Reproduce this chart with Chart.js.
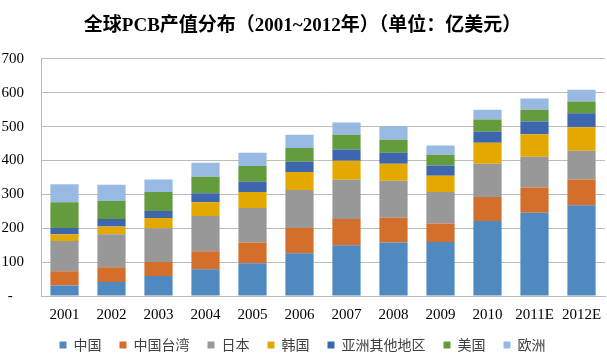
<!DOCTYPE html>
<html>
<head>
<meta charset="utf-8">
<script src="https://cdn.jsdelivr.net/npm/chart.js@4/dist/chart.umd.min.js"></script>
<style>
  body { margin: 0; background: #fff; }
</style>
</head>
<body>
<canvas id="pcb" width="607" height="360"></canvas>
<script>
var years = ['2001', '2002', '2003', '2004', '2005', '2006', '2007', '2008', '2009', '2010', '2011E', '2012E'];
var china     = [31, 41, 59, 79, 97, 126, 150, 158, 159, 221, 246, 268];
var taiwan    = [42, 44, 41, 53, 61, 75, 77, 73, 55, 71, 74, 76];
var japan     = [89, 97, 100, 104, 102, 112, 116, 109, 93, 98, 91, 85];
var korea     = [20, 23, 30, 41, 47, 53, 56, 50, 48, 62, 66, 69];
var otherAsia = [19, 22, 21, 26, 30, 30, 33, 33, 30, 33, 38, 41];
var usa       = [76, 53, 56, 49, 47, 41, 44, 38, 32, 36, 35, 35];
var europe    = [53, 48, 37, 41, 39, 39, 36, 40, 27, 29, 33, 35];
var yTicks = [0, 100, 200, 300, 400, 500, 600, 700];

var serif = "'Liberation Serif', 'Times New Roman', serif";

function ds(label, data, color) {
    return {
        label: label,
        data: data,
        backgroundColor: color,
        borderWidth: 0,
        barPercentage: 0.6,
        categoryPercentage: 1
    };
}

var ctx = document.getElementById('pcb').getContext('2d');
var chart = new Chart(ctx, {
    type: 'bar',
    data: {
        labels: years,
        datasets: [
            ds('中国', china, '#4f89bf'),
            ds('中国台湾', taiwan, '#d46e2b'),
            ds('日本', japan, '#989898'),
            ds('韩国', korea, '#e3a900'),
            ds('亚洲其他地区', otherAsia, '#3d66af'),
            ds('美国', usa, '#639b3d'),
            ds('欧洲', europe, '#98b9e1')
        ]
    },
    options: {
        responsive: false,
        animation: false,
        layout: { padding: { left: 0, right: 2, top: 0, bottom: 0 } },
        plugins: {
            title: {
                display: true,
                text: '全球PCB产值分布（2001~2012年）（单位：亿美元）',
                color: '#000',
                font: { family: serif + ", 'Noto Sans CJK SC'", size: 19, weight: 'bold' },
                padding: { top: 15, bottom: 21 }
            },
            legend: {
                position: 'bottom',
                maxHeight: 40,
                labels: {
                    color: '#404040',
                    font: { family: "'Noto Sans CJK SC'", size: 14 },
                    boxWidth: 7,
                    boxHeight: 7,
                    padding: 18
                }
            },
            tooltip: { enabled: false }
        },
        scales: {
            x: {
                stacked: true,
                grid: { display: false },
                border: { color: '#bbbbbb' },
                afterFit: function (axis) {
                    axis.height = 24;
                    // let the year labels spill below the axis box instead of being clipped
                    axis._computeLabelArea = function () {};
                },
                ticks: { color: '#000', font: { family: serif, size: 15 }, maxRotation: 0, autoSkip: false, padding: 2 }
            },
            y: {
                stacked: true,
                min: 0,
                max: 700,
                afterBuildTicks: function (axis) {
                    axis.ticks = yTicks.map(function (v) { return { value: v }; });
                },
                afterFit: function (axis) { axis.width = 41; },
                grid: { color: '#bcbcbc', drawTicks: false },
                border: { color: '#bbbbbb' },
                ticks: {
                    color: '#000',
                    font: { family: serif, size: 15 },
                    padding: 17,
                    callback: function (v) { return v === 0 ? '-   ' : v; }
                }
            }
        }
    }
});
</script>
</body>
</html>
